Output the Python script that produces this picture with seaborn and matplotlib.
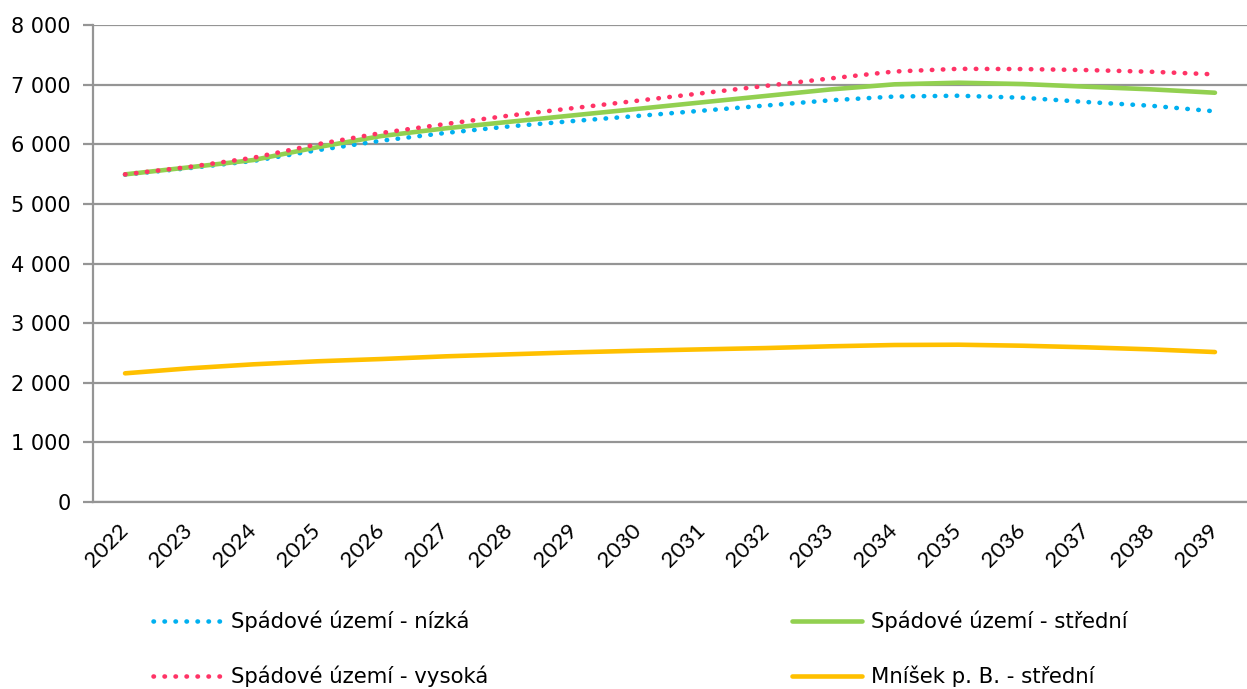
import numpy as np
import pandas as pd
import matplotlib.pyplot as plt
import seaborn as sns

# -----------------------
# Data
# -----------------------

years = [str(y) for y in range(2022, 2040)]

nizka = [5490, 5600, 5720, 5900, 6060, 6190, 6300, 6390, 6475, 6563,
         6650, 6737, 6800, 6814, 6780, 6708, 6646, 6552]
stredni = [5495, 5613, 5735, 5950, 6138, 6267, 6377, 6486, 6594, 6703,
           6811, 6919, 7005, 7032, 7010, 6965, 6921, 6864]
vysoka = [5495, 5620, 5774, 6000, 6190, 6340, 6482, 6607, 6731, 6856,
          6980, 7104, 7220, 7265, 7261, 7244, 7216, 7172]
mnisek = [2158, 2242, 2309, 2360, 2398, 2443, 2477, 2510, 2537, 2560,
          2582, 2611, 2633, 2638, 2621, 2594, 2560, 2515]

labels = [
    "Spádové území - nízká",
    "Spádové území - střední",
    "Spádové území - vysoká",
    "Mníšek p. B. - střední",
]

# -----------------------
# Style
# -----------------------

sns.set_style("white")
plt.rcParams["font.family"] = ["DejaVu Sans"]
plt.rcParams["font.size"] = 15
plt.rcParams["text.color"] = "black"
plt.rcParams["xtick.color"] = "black"
plt.rcParams["ytick.color"] = "black"

grid_col = "#959595"
dot = (0, (0.1, 2.3))

fig = plt.figure(figsize=(12.47, 6.89), dpi=100)
ax = fig.add_axes([93 / 1247, 1 - 502 / 689, 1 - 93 / 1247, (502 - 25) / 689])

x = np.arange(len(years))

series = [
    (nizka, labels[0], "#00B0F0", dot),
    (stredni, labels[1], "#92D050", "-"),
    (vysoka, labels[2], "#FF3366", dot),
    (mnisek, labels[3], "#FFC000", "-"),
]

handles = {}
for vals, lab, col, ls in series:
    sns.lineplot(x=x, y=vals, ax=ax, color=col, linewidth=3.3,
                 linestyle=ls, label=lab, legend=False)
    line = ax.lines[-1]
    line.set_dash_capstyle("round")
    line.set_solid_capstyle("round")
    handles[lab] = line

# -----------------------
# Axes
# -----------------------

ax.set_ylim(0, 8000)
ax.set_xlim(-0.5, (1247 - 93) / 64.6 - 0.5)
ax.set_yticks(range(0, 8001, 1000))
ax.set_yticklabels([f"{v:,}".replace(",", " ") for v in range(0, 8001, 1000)])
ax.yaxis.grid(True, color=grid_col, linewidth=1.6)
ax.set_axisbelow(True)

ax.set_xticks(x)
ax.set_xticklabels(years, rotation=45, ha="right", va="center",
                   rotation_mode="anchor", family="Lato", fontsize=16)
ax.set_xticks(np.arange(-0.5, len(years), 1.0), minor=True)
ax.tick_params(axis="x", which="major", length=0, pad=18)
ax.tick_params(axis="x", which="minor", length=7, width=1.6, color=grid_col,
               direction="out")
ax.tick_params(axis="y", length=7, width=1.6, color=grid_col, pad=9,
               labelsize=15, left=True)

for s in ["top", "right"]:
    ax.spines[s].set_visible(False)
for s in ["left", "bottom"]:
    ax.spines[s].set_color(grid_col)
    ax.spines[s].set_linewidth(1.6)

ax.set_xlabel("")
ax.set_ylabel("")

# -----------------------
# Legend
# -----------------------

order = [labels[0], labels[2], labels[1], labels[3]]
fig.legend(
    [handles[l] for l in order], order,
    ncol=2, loc="upper left", bbox_to_anchor=(153 / 1247, 1 - 611 / 689),
    frameon=False, fontsize=15.3, handlelength=3.3, handletextpad=0.38,
    columnspacing=14.3, labelspacing=1.55, borderaxespad=0, borderpad=0,
)

fig.savefig("out.png", dpi=100)
